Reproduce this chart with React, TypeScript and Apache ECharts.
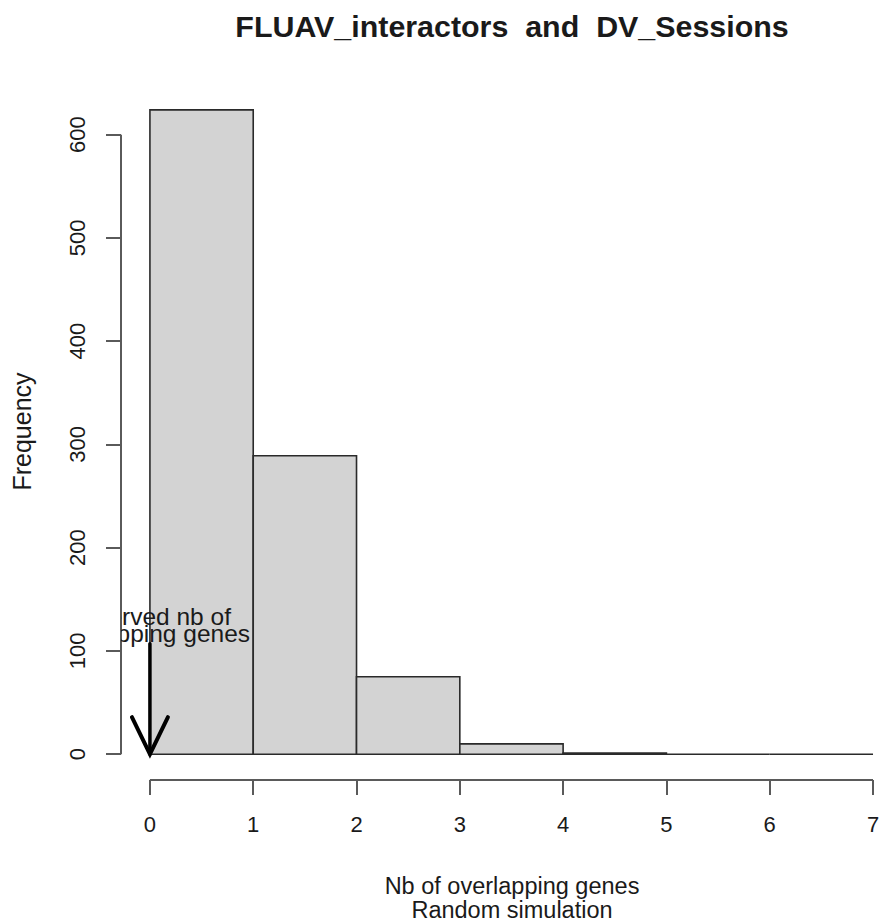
import React, { useEffect, useRef } from "react";
import * as echarts from "echarts";

const BIN_EDGES = [0, 1, 2, 3, 4, 5, 6, 7];
const COUNTS = [624, 289, 75, 10, 1, 0, 0];
const X_TICKS = [0, 1, 2, 3, 4, 5, 6, 7];
const Y_TICKS = [0, 100, 200, 300, 400, 500, 600];
const X_RANGE = [-0.28, 7.087];
const Y_RANGE = [-25, 650];
const ARROW_X = 0;
const ARROW_FROM = 107;
const ARROW_TO = 0;
const ANNOTATION_Y = 109;
const ANNOTATION = "observed nb of\noverlapping genes";
const TITLE = "FLUAV_interactors  and  DV_Sessions";
const X_NAME = "Nb of overlapping genes\nRandom simulation";
const Y_NAME = "Frequency";
const FONT = "'Liberation Sans', Arial, Helvetica, sans-serif";
const AXIS_COLOR = "#5a5a5a";
const TEXT_COLOR = "#1a1a1a";

export default function App() {
  const ref = useRef<HTMLDivElement>(null);
  useEffect(() => {
    if (!ref.current) return;
    const chart = echarts.init(ref.current, undefined, { renderer: "svg" });
    const option: any = {
      animation: false,
      backgroundColor: "#ffffff",
      grid: { left: 121, right: 0, top: 83, bottom: 143, containLabel: false, outerBoundsMode: "none" },
      graphic: [
        {
          type: "text",
          x: 512,
          y: 26,
          style: {
            text: TITLE,
            fontSize: 30.4,
            fontWeight: "bold",
            fontFamily: FONT,
            fill: TEXT_COLOR,
            align: "center",
            verticalAlign: "middle",
          },
        },
        {
          type: "text",
          x: 512,
          y: 898,
          style: {
            text: X_NAME,
            fontSize: 23.5,
            lineHeight: 24,
            fontFamily: FONT,
            fill: TEXT_COLOR,
            align: "center",
            verticalAlign: "middle",
          },
        },
      ],
      xAxis: {
        type: "value",
        min: X_RANGE[0],
        max: X_RANGE[1],
        position: "bottom",
        axisLine: { show: false, onZero: false },
        axisTick: {
          show: true,
          length: 15,
          customValues: X_TICKS,
          lineStyle: { color: AXIS_COLOR, width: 2 },
        },
        axisLabel: {
          customValues: X_TICKS,
          fontSize: 22,
          fontFamily: FONT,
          color: TEXT_COLOR,
          margin: 33,
        },
        splitLine: { show: false },
      },
      yAxis: {
        type: "value",
        min: Y_RANGE[0],
        max: Y_RANGE[1],
        position: "left",
        axisLine: { show: false, onZero: false },
        axisTick: {
          show: true,
          length: 15,
          customValues: Y_TICKS,
          lineStyle: { color: AXIS_COLOR, width: 2 },
        },
        axisLabel: {
          customValues: Y_TICKS,
          rotate: 90,
          fontSize: 22,
          fontFamily: FONT,
          color: TEXT_COLOR,
          margin: 33,
        },
        splitLine: { show: false },
        name: Y_NAME,
        nameLocation: "middle",
        nameRotate: 90,
        nameGap: 87,
        nameTextStyle: { fontSize: 25, fontFamily: FONT, color: TEXT_COLOR },
      },
      series: [
        {
          type: "custom",
          name: "histogram",
          clip: true,
          data: COUNTS.map((c, i) => [BIN_EDGES[i], BIN_EDGES[i + 1], c]),
          encode: { x: [0, 1], y: 2 },
          renderItem: (_params: any, api: any) => {
            const p0 = api.coord([api.value(0), api.value(2)]);
            const p1 = api.coord([api.value(1), 0]);
            return {
              type: "rect",
              shape: { x: p0[0], y: p0[1], width: p1[0] - p0[0], height: p1[1] - p0[1] },
              style: { fill: "#d3d3d3", stroke: "#2a2a2a", lineWidth: 1.6 },
            };
          },
        },
        {
          type: "custom",
          name: "axes",
          clip: false,
          silent: true,
          data: [[0, 0]],
          renderItem: (_params: any, api: any) => {
            const xa = api.coord([X_TICKS[0], Y_RANGE[0]]);
            const xb = api.coord([X_TICKS[X_TICKS.length - 1], Y_RANGE[0]]);
            const ya = api.coord([X_RANGE[0], Y_TICKS[0]]);
            const yb = api.coord([X_RANGE[0], Y_TICKS[Y_TICKS.length - 1]]);
            const st = { stroke: AXIS_COLOR, lineWidth: 2 };
            return {
              type: "group",
              children: [
                { type: "line", shape: { x1: xa[0], y1: xa[1], x2: xb[0], y2: xb[1] }, style: st },
                { type: "line", shape: { x1: ya[0], y1: ya[1], x2: yb[0], y2: yb[1] }, style: st },
              ],
            };
          },
        },
        {
          type: "custom",
          name: "arrow",
          clip: true,
          silent: true,
          data: [[ARROW_X, ARROW_FROM, ARROW_TO, ANNOTATION_Y]],
          renderItem: (_params: any, api: any) => {
            const top = api.coord([api.value(0), api.value(1)]);
            const tip = api.coord([api.value(0), api.value(2)]);
            const lbl = api.coord([api.value(0), api.value(3)]);
            const st = { stroke: "#000", lineWidth: 3.5, lineCap: "round" };
            return {
              type: "group",
              children: [
                { type: "line", shape: { x1: top[0], y1: top[1], x2: tip[0], y2: tip[1] }, style: st },
                { type: "polyline", shape: { points: [[tip[0] - 18, tip[1] - 37], [tip[0], tip[1]], [tip[0] + 18, tip[1] - 37]] }, style: { ...st, lineWidth: 4, fill: "none" } },
                {
                  type: "text",
                  x: lbl[0],
                  y: lbl[1],
                  style: {
                    text: ANNOTATION,
                    fontSize: 24.5,
                    lineHeight: 17,
                    fontFamily: FONT,
                    fill: TEXT_COLOR,
                    align: "center",
                    verticalAlign: "bottom",
                  },
                },
              ],
            };
          },
        },
      ],
    };
    chart.setOption(option);
    return () => chart.dispose();
  }, []);
  return (
    <div
      ref={ref}
      style={{ position: "fixed", left: 0, top: 0, width: 882, height: 923, background: "#fff" }}
    />
  );
}
